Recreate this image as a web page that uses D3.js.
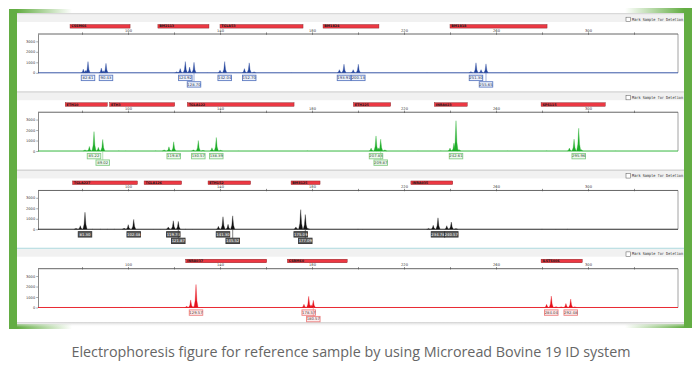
<!DOCTYPE html>
<html><head><meta charset="utf-8">
<script src="https://cdn.jsdelivr.net/npm/d3@7/dist/d3.min.js"></script>
<style>html,body{margin:0;padding:0;background:#fff;overflow:hidden}svg{display:block}</style>
</head><body>
<svg id="chart" width="700" height="368"></svg>
<script>
// ---------------- DATA ----------------
const xTickValues = [80,100,120,140,160,180,200,220,240,260,280,300,320];
const xTickLabels = [100,140,180,220,260,300];
const yTickValues = [0,1000,2000,3000];
const caption = "Electrophoresis figure for reference sample by using Microread Bovine 19 ID system";
const checkboxText = "Mark Sample for Deletion";

// panel 1 (blue)
const blueLoci = [["CSSM66",74.8,100.9],["BM2113",113.0,135.2],["TGLA53",140.0,176.1],["BM1824",184.8,209.1],["BM1818",240.0,282.2]];
const bluePeaks = [[80.57,350],[81.6,220],[82.61,1070],[88.4,450],[89.2,200],[90.43,900],
  [121.2,100],[122.7,400],[124.92,1070],[126.8,550],[128.70,1000],
  [140.0,250],[142.04,1070],[150.6,400],[152.70,950],[154.8,100],
  [191.9,300],[193.91,820],[197.9,300],[200.13,820],
  [249.1,120],[251.30,950],[253.5,300],[255.65,850]];
const blueCalls = [82.61,90.43,124.92,128.70,142.04,152.70,193.91,200.13,251.30,255.65];
const blueNoise = [[134.5,40],[171,30],[230,30],[266,30]];

// panel 2 (green)
const greenLoci = [["ETH10",72.7,91.0],["ETH3",92.0,120.3],["TGLA122",125.8,172.2],["ETH225",198.0,214.2],["INRA023",233.2,247.5],["SPS115",279.6,307.5]];
const greenPeaks = [[81.3,120],[83.2,440],[85.22,1850],[87.1,350],[89.02,1100],
  [115.7,120],[117.8,400],[119.87,880],
  [128.4,120],[130.57,1000],[132.6,80],[136.5,310],[138.39,1290],[140.3,80],
  [205.7,280],[207.83,1440],[208.8,300],[209.87,1130],[211.7,120],
  [240.0,280],[241.7,750],[242.61,2890],[243.9,150],
  [291.9,280],[293.94,1130],[295.96,2170],[297.0,150]];
const greenCalls = [85.22,89.02,119.87,130.57,138.39,207.83,209.87,242.61,295.96];
const greenNoise = [[96,40],[99,30],[112,40],[148,30],[178,40],[226,30],[236,40],[265,30],[282,40],[312,30]];

// panel 3 (black)
const blackLoci = [["TGLA227",75.9,104.1],["TGLA126",107.0,123.3],["ETH152",134.8,153.3],["BM8125",170.9,183.5],["INRA035",223.0,241.2]];
const blackPeaks = [[77.4,100],[79.26,340],[81.30,1620],
  [98.3,120],[100.1,440],[102.48,940],
  [117.5,220],[119.70,810],[121.87,750],
  [139.3,280],[141.30,1190],[143.5,470],[145.52,1280],
  [173.0,220],[175.09,1870],[177.09,1400],[178.2,100],
  [230.7,80],[232.7,375],[234.78,1090],[238.6,340],[240.57,690],[242.6,80]];
const blackCalls = [81.30,102.48,119.70,121.87,141.30,145.52,175.09,177.09,234.78,240.57];
const blackNoise = [[84.5,40],[88,40],[91,40],[94,40],[111,30],[114,30],[125,40],[128,30],[200,40],[202,30],[280,40],[286,30],[291,40]];

// panel 4 (red)
const redLoci = [["INRA037",125.1,160.3],["CSRM60",169.3,195.3],["ILSTS006",279.6,297.5]];
const redPeaks = [[125.5,120],[127.26,720],[128.3,100],[129.57,2190],
  [176.5,310],[178.57,1060],[179.6,250],[180.57,690],
  [282.0,300],[284.04,1090],[286.1,100],[288.3,80],[290.4,375],[292.48,810],[294.3,80]];
const redCalls = [129.57,178.57,180.57,284.04,292.48];
const redNoise = [[97,40],[99,30],[102,40],[117,30],[132,40],[149,30],[150,30],[153,40],[157,30],[222,30],[258,40],[260,30],[275,30]];

// ---------------- RENDER ----------------
const svg = d3.select("#chart");
const green = "#63ad43";
const defs = svg.append("defs");
function grad(id, c1, o1, c2, o2, vertical){
  const g = defs.append("linearGradient").attr("id", id)
    .attr("x1",0).attr("y1",0).attr("x2", vertical?0:1).attr("y2", vertical?1:0);
  g.append("stop").attr("offset","0%").attr("stop-color",c1).attr("stop-opacity",o1);
  g.append("stop").attr("offset","100%").attr("stop-color",c2).attr("stop-opacity",o2);
}
grad("gFadeR", green, 1, green, 0);
grad("gFadeL", green, 0, green, 1);
grad("gShadow", "#cfcfcf", 1, "#ffffff", 0, true);

// frame
svg.append("rect").attr("x",9).attr("y",9).attr("width",8).attr("height",320).attr("fill",green);
svg.append("rect").attr("x",17).attr("y",9).attr("width",55).attr("height",5).attr("fill","url(#gFadeR)");
svg.append("rect").attr("x",17).attr("y",324).attr("width",55).attr("height",5).attr("fill","url(#gFadeR)");
svg.append("rect").attr("x",684).attr("y",8).attr("width",8).attr("height",320).attr("fill",green);
svg.append("rect").attr("x",625).attr("y",8).attr("width",59).attr("height",5).attr("fill","url(#gFadeL)");
svg.append("rect").attr("x",625).attr("y",323).attr("width",59).attr("height",5).attr("fill","url(#gFadeL)");
svg.append("rect").attr("x",17).attr("y",13).attr("width",667).attr("height",311).attr("fill","#fff");
svg.append("rect").attr("x",17).attr("y",322).attr("width",667).attr("height",5).attr("fill","url(#gShadow)");

const xScale = d3.scaleLinear().domain([60,340]).range([36,680]);
const plotLeft = 38, plotRight = 678;

const panels = [
  {loci:blueLoci, peaks:bluePeaks, calls:blueCalls, noise:blueNoise, color:"#23439c", boxStroke:"#5f7cc2", boxFill:"#eef2fb", text:"#223355", sep:"#d6d6d6"},
  {loci:greenLoci, peaks:greenPeaks, calls:greenCalls, noise:greenNoise, color:"#1fae2a", boxStroke:"#86cc86", boxFill:"#eef8ee", text:"#335533", sep:"#d6d6d6"},
  {loci:blackLoci, peaks:blackPeaks, calls:blackCalls, noise:blackNoise, color:"#111111", boxStroke:"#333", boxFill:"#5d5d5d", text:"#ffffff", sep:"#bfe0e4"},
  {loci:redLoci, peaks:redPeaks, calls:redCalls, noise:redNoise, color:"#e6121c", boxStroke:"#ec8080", boxFill:"#fdeeee", text:"#553333", sep:null}
];

panels.forEach((p, i) => {
  const plotTop = 34 + i*78.23;
  const plotBottom = plotTop + 38.8;
  const panelTop = plotTop - 21;
  const g = svg.append("g");

  // header band
  g.append("rect").attr("x",17).attr("y",panelTop).attr("width",667).attr("height",1.6).attr("fill", i===0 ? "#d9d9d9" : panels[i-1].sep);
  g.append("rect").attr("x",17).attr("y",panelTop+1.6).attr("width",667).attr("height",7.4).attr("fill","#f1f1f1");

  // checkbox
  g.append("rect").attr("x",626).attr("y",panelTop+4.2).attr("width",4.4).attr("height",4.4)
    .attr("fill","#fff").attr("stroke","#555").attr("stroke-width",0.5);
  g.append("text").attr("x",632).attr("y",panelTop+7.8).text(checkboxText)
    .attr("font-family","DejaVu Sans Mono").attr("font-size",4).attr("fill","#333")
    .attr("textLength",51).attr("lengthAdjust","spacingAndGlyphs");

  // locus bars
  const lg = g.selectAll("g.locus").data(p.loci).join("g").attr("class","locus");
  lg.append("rect").attr("x",d=>xScale(d[1])).attr("y",panelTop+11.5)
    .attr("width",d=>xScale(d[2])-xScale(d[1])).attr("height",3.6)
    .attr("fill","#ec3843").attr("stroke","#7d1c20").attr("stroke-width",0.4);
  lg.append("text").attr("x",d=>xScale(d[1])+1.3).attr("y",panelTop+14.4)
    .text(d=>d[0]).attr("font-family","DejaVu Sans").attr("font-size",3.3).attr("font-weight","bold").attr("fill","#1a1a1a");

  const yScale = d3.scaleLinear().domain([0,3700]).range([plotBottom, plotTop]);

  // plot frame
  g.append("line").attr("x1",plotRight).attr("x2",plotRight).attr("y1",plotTop).attr("y2",plotBottom).attr("stroke","#8a8a8a").attr("stroke-width",0.8);

  // top axis
  const ax = g.append("g").attr("transform",`translate(0,${plotTop})`)
    .call(d3.axisTop(xScale).tickValues(xTickValues).tickSizeInner(1.6).tickSizeOuter(0).tickPadding(0.8)
      .tickFormat(d => xTickLabels.includes(d) ? d : ""));
  ax.select(".domain").remove();
  ax.selectAll(".tick line").attr("stroke","#444").attr("stroke-width",0.6).attr("y2",-1.6).attr("y1",0.8);
  ax.selectAll(".tick text").attr("font-size",3.6).attr("font-family","DejaVu Sans").attr("fill","#333");
  g.append("line").attr("x1",plotLeft).attr("x2",plotRight).attr("y1",plotTop).attr("y2",plotTop).attr("stroke","#555").attr("stroke-width",0.9);

  // left axis
  const ay = g.append("g").attr("transform",`translate(${plotLeft},0)`)
    .call(d3.axisLeft(yScale).tickValues(yTickValues).tickFormat(d3.format("d")).tickSizeInner(1.8).tickSizeOuter(0).tickPadding(1));
  ay.select(".domain").attr("stroke","#555").attr("stroke-width",0.7);
  ay.selectAll(".tick line").attr("stroke","#555").attr("stroke-width",0.5);
  ay.selectAll(".tick text").attr("font-size",3.6).attr("font-family","DejaVu Sans").attr("fill","#333");

  // peaks
  const peakPath = d => {
    const s = d[0], h = d[1];
    const pts = [[s-0.9,0],[s-0.38,h*0.3],[s,h],[s+0.38,h*0.3],[s+0.9,0]];
    return d3.line().x(q=>xScale(q[0])).y(q=>yScale(q[1]))(pts);
  };
  g.selectAll("path.noise").data(p.noise).join("path").attr("class","noise")
    .attr("d",peakPath).attr("fill",p.color).attr("opacity",0.45);
  g.selectAll("path.peak").data(p.peaks).join("path").attr("class","peak")
    .attr("d",peakPath).attr("fill",p.color).attr("stroke",p.color).attr("stroke-width",0.3);

  // baseline
  g.append("line").attr("x1",plotLeft).attr("x2",plotRight).attr("y1",plotBottom).attr("y2",plotBottom)
    .attr("stroke",p.color).attr("stroke-width",0.9);

  // allele call labels
  const bw = 13.5, bh = 5.4;
  let prevX = -100, prevRow = 1;
  const calls = p.calls.map(c => {
    const x = xScale(c);
    let row = 1;
    if (x - prevX < 13 && prevRow === 1) row = 2;
    prevX = x; prevRow = row;
    return {c, x, row};
  });
  calls.forEach(d => {
    const by = plotBottom + (d.row===1 ? 2.4 : 8.9);
    if (d.row === 2) {
      g.append("line").attr("x1",d.x).attr("x2",d.x).attr("y1",plotBottom).attr("y2",by)
        .attr("stroke",p.boxStroke).attr("stroke-width",0.6);
    }
    g.append("rect").attr("x",d.x-bw/2).attr("y",by).attr("width",bw).attr("height",bh)
      .attr("fill",p.boxFill).attr("stroke",p.boxStroke).attr("stroke-width",0.9);
    g.append("text").attr("x",d.x).attr("y",by+bh/2+1.3).attr("text-anchor","middle")
      .text(d.c.toFixed(2)).attr("font-family","DejaVu Sans").attr("font-size",3.8).attr("fill",p.text);
  });
});

// caption
svg.append("text").attr("x",351).attr("y",357).attr("text-anchor","middle")
  .text(caption).attr("font-family","Open Sans").attr("font-size",14).attr("fill","#666666")
  .attr("textLength",559).attr("lengthAdjust","spacingAndGlyphs");
</script>
</body></html>
